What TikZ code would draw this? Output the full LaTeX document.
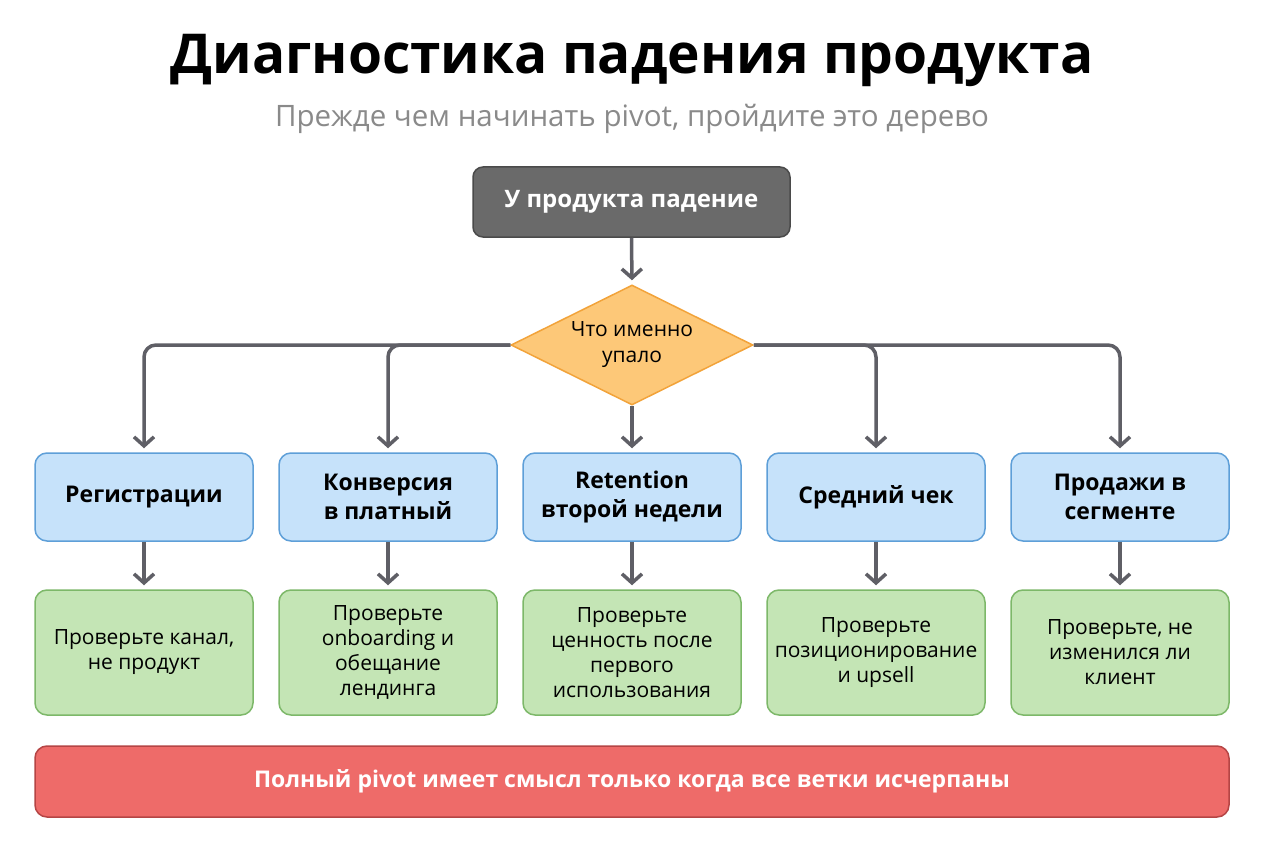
\documentclass[tikz,border=0pt]{standalone}
\usepackage{fontspec}
\setmainfont{Open Sans}
\usetikzlibrary{shapes.geometric,arrows.meta,positioning}
\definecolor{topfill}{HTML}{6A6A6A}
\definecolor{topdraw}{HTML}{4A4A4A}
\definecolor{dfill}{HTML}{FDC878}
\definecolor{ddraw}{HTML}{F2A33A}
\definecolor{bfill}{HTML}{C6E2FA}
\definecolor{bdraw}{HTML}{5E9FD8}
\definecolor{gfill}{HTML}{C4E5B5}
\definecolor{gdraw}{HTML}{7DB869}
\definecolor{rfill}{HTML}{EE6B69}
\definecolor{rdraw}{HTML}{B54545}
\definecolor{linec}{HTML}{5F5F66}
\definecolor{subc}{HTML}{8A8A8A}
\tikzset{
  box/.style={rounded corners=12pt, line width=1.5pt, minimum width=218pt, align=center, inner sep=4pt},
  bluebox/.style={box, fill=bfill, draw=bdraw, minimum height=88pt, font=\fontsize{23}{29}\selectfont\bfseries},
  greenbox/.style={box, fill=gfill, draw=gdraw, minimum height=125pt, font=\fontsize{21}{25}\selectfont},
  conn/.style={draw=linec, line width=3.5pt, -{Straight Barb[length=9pt,width=20pt,line width=3.5pt]}, shorten >=4pt},
}
\begin{document}
\begin{tikzpicture}[x=1pt,y=-1pt]
\useasboundingbox (0,0) rectangle (1264,848);
\fill[white] (0,0) rectangle (1264,848);
\node[font=\fontsize{55}{64}\selectfont\bfseries] (title) at (632,60) {Диагностика падения продукта};
\node[font=\fontsize{29.5}{34}\selectfont, text=subc] (sub) at (632,119) {Прежде чем начинать pivot, пройдите это дерево};
\node[rounded corners=10pt, fill=topfill, draw=topdraw, line width=1.5pt, minimum width=317pt, minimum height=70pt, text=white, font=\fontsize{24}{28}\selectfont\bfseries] (top) at (631.5,202) {У продукта падение};
\node[diamond, aspect=2, fill=dfill, draw=ddraw, line width=1.5pt, minimum width=242pt, minimum height=120pt, inner sep=0pt, align=center, font=\fontsize{21}{26}\selectfont] (d) at (632,345) {Что именно\\упало};
\node[bluebox] (b1) at (144,497) {Регистрации};
\node[bluebox] (b2) at (388,497) {Конверсия\\в платный};
\node[bluebox] (b3) at (632,497) {Retention\\второй недели};
\node[bluebox] (b4) at (876,497) {Средний чек};
\node[bluebox] (b5) at (1120,497) {Продажи в\\сегменте};
\node[greenbox] (g1) at (144,652.5) {Проверьте канал,\\не продукт};
\node[greenbox] (g2) at (388,652.5) {Проверьте\\onboarding и\\обещание\\лендинга};
\node[greenbox] (g3) at (632,652.5) {Проверьте\\ценность после\\первого\\использования};
\node[greenbox] (g4) at (876,652.5) {Проверьте\\позиционирование\\и upsell};
\node[greenbox] (g5) at (1120,652.5) {Проверьте, не\\изменился ли\\клиент};
\node[rounded corners=12pt, fill=rfill, draw=rdraw, line width=1.5pt, minimum width=1194pt, minimum height=71pt, text=white, font=\fontsize{23}{27}\selectfont\bfseries] (bar) at (632,781.5) {Полный pivot имеет смысл только когда все ветки исчерпаны};
\draw[conn] (top.south) -- (d.north);
\draw[conn, rounded corners=12pt] (d.west) -| (b1.north);
\draw[conn, rounded corners=12pt] (d.west) -| (b2.north);
\draw[conn] (d.south) -- (b3.north);
\draw[conn, rounded corners=12pt] (d.east) -| (b4.north);
\draw[conn, rounded corners=12pt] (d.east) -| (b5.north);
\foreach \i in {1,...,5} {\draw[conn] (b\i.south) -- (g\i.north);}
\end{tikzpicture}
\end{document}
